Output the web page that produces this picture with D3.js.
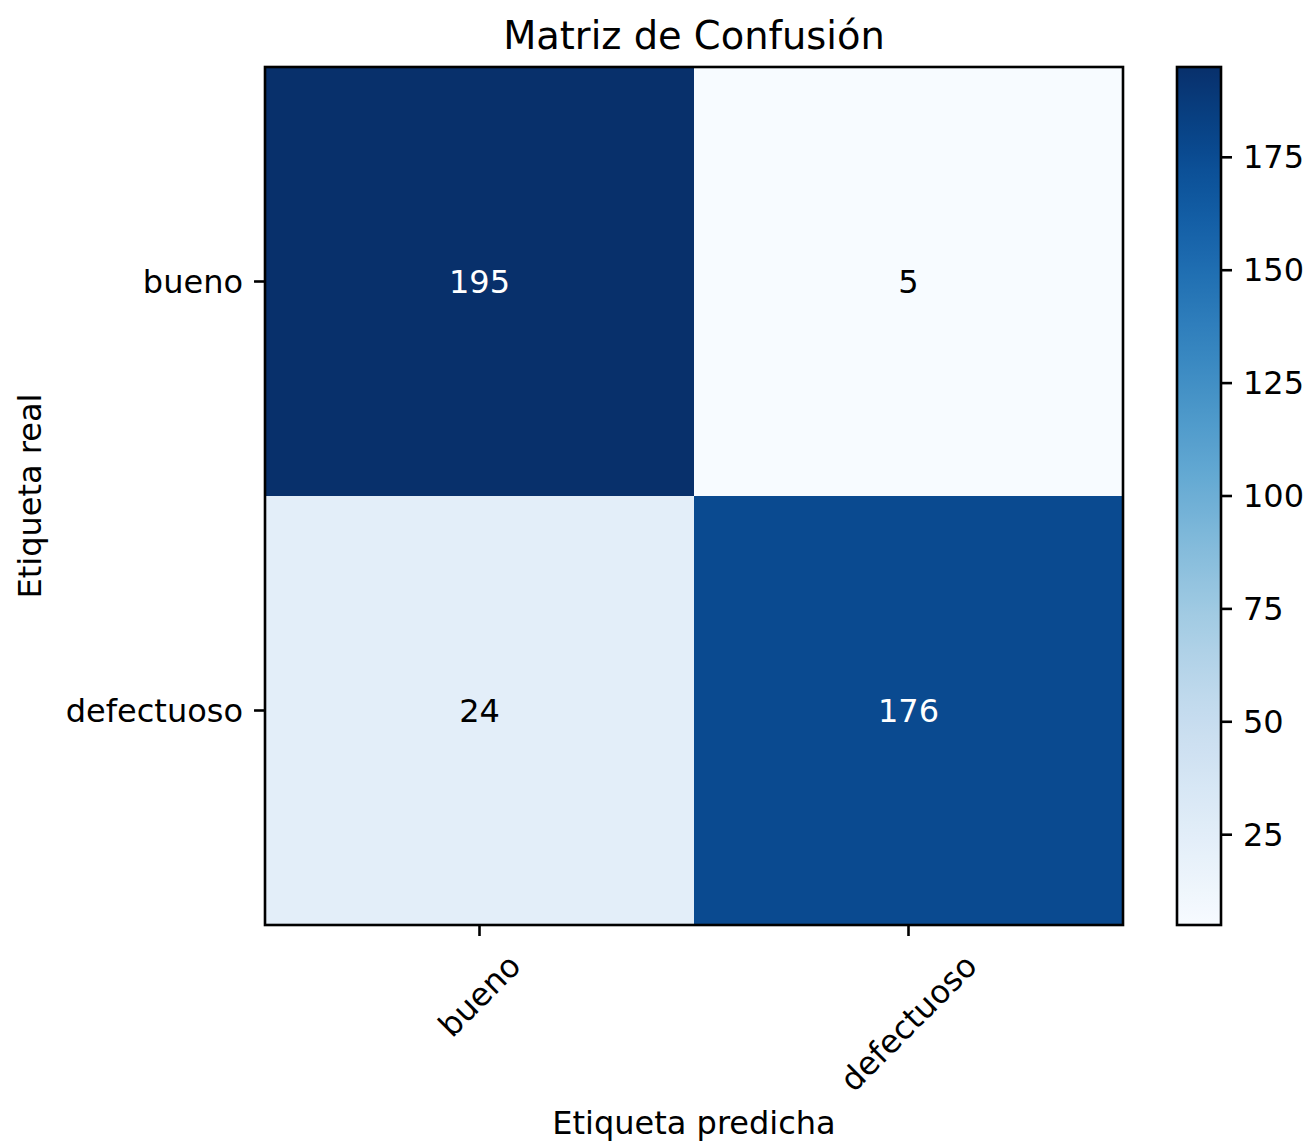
<!DOCTYPE html>
<html>
<head>
<meta charset="utf-8">
<script src="https://cdn.jsdelivr.net/npm/d3@7/dist/d3.min.js"></script>
<style>
  html, body { margin: 0; padding: 0; background: #ffffff; }
  svg { display: block; font-family: "DejaVu Sans", sans-serif; }
</style>
</head>
<body>
<svg id="chart" width="1306" height="1144"></svg>
<script>
// Confusion matrix data
const trueLabels = ["bueno", "defectuoso"];
const predLabels = ["bueno", "defectuoso"];
const counts = [
  [195, 5],
  [24, 176]
];
const colorbarTicks = [25, 50, 75, 100, 125, 150, 175];
const titleText = "Matriz de Confusión";
const xLabelText = "Etiqueta predicha";
const yLabelText = "Etiqueta real";

const svg = d3.select("#chart");

// Layout
const plot = { left: 265, right: 1123, top: 67, bottom: 925 };
const cbar = { left: 1177, right: 1221, top: 67, bottom: 925 };
const fontSize = 32;
const tickLen = 11;
const tickPad = 11;
const lineW = 2.6;

const flat = counts.flat();
const vmin = d3.min(flat), vmax = d3.max(flat);
const norm = d3.scaleLinear().domain([vmin, vmax]).range([0, 1]);
const color = v => d3.interpolateBlues(norm(v));

const x = d3.scaleBand().domain(predLabels).range([plot.left, plot.right]);
const y = d3.scaleBand().domain(trueLabels).range([plot.top, plot.bottom]);

// Cells
const cells = [];
trueLabels.forEach((t, i) => predLabels.forEach((p, j) => cells.push({ t, p, v: counts[i][j] })));

svg.append("g").selectAll("rect").data(cells).join("rect")
  .attr("x", d => x(d.p))
  .attr("y", d => y(d.t))
  .attr("width", x.bandwidth())
  .attr("height", y.bandwidth())
  .attr("fill", d => color(d.v));

const thresh = vmax / 2;
svg.append("g").selectAll("text").data(cells).join("text")
  .attr("x", d => x(d.p) + x.bandwidth() / 2)
  .attr("y", d => y(d.t) + y.bandwidth() / 2)
  .attr("text-anchor", "middle")
  .attr("dominant-baseline", "central")
  .attr("font-size", fontSize)
  .attr("fill", d => d.v > thresh ? "#ffffff" : "#000000")
  .text(d => d.v);

// Plot frame
svg.append("rect")
  .attr("x", plot.left).attr("y", plot.top)
  .attr("width", plot.right - plot.left).attr("height", plot.bottom - plot.top)
  .attr("fill", "none").attr("stroke", "#000").attr("stroke-width", lineW);

// Y axis ticks and labels
const yTicks = svg.append("g");
trueLabels.forEach(t => {
  const cy = y(t) + y.bandwidth() / 2;
  yTicks.append("line")
    .attr("x1", plot.left).attr("x2", plot.left - tickLen)
    .attr("y1", cy).attr("y2", cy)
    .attr("stroke", "#000").attr("stroke-width", lineW);
  yTicks.append("text")
    .attr("x", plot.left - tickLen - tickPad)
    .attr("y", cy)
    .attr("text-anchor", "end")
    .attr("dominant-baseline", "central")
    .attr("font-size", fontSize)
    .text(t);
});

// X axis ticks and rotated labels
const xTicks = svg.append("g");
predLabels.forEach(p => {
  const cx = x(p) + x.bandwidth() / 2;
  xTicks.append("line")
    .attr("x1", cx).attr("x2", cx)
    .attr("y1", plot.bottom).attr("y2", plot.bottom + tickLen)
    .attr("stroke", "#000").attr("stroke-width", lineW);
  const lbl = xTicks.append("text")
    .attr("text-anchor", "middle")
    .attr("dominant-baseline", "central")
    .attr("font-size", fontSize)
    .text(p);
  const w = lbl.node().getComputedTextLength();
  const h = fontSize * 1.16;
  const top = plot.bottom + tickLen + tickPad;
  const cyL = top + (w + h) / (2 * Math.SQRT2);
  lbl.attr("transform", `translate(${cx},${cyL}) rotate(-45)`);
});

// Colorbar
const cy = d3.scaleLinear().domain([vmin, vmax]).range([cbar.bottom, cbar.top]);
const defs = svg.append("defs");
const grad = defs.append("linearGradient")
  .attr("id", "cbGrad")
  .attr("x1", "0").attr("y1", "1").attr("x2", "0").attr("y2", "0");
d3.range(0, 1.0001, 0.02).forEach(s => {
  grad.append("stop").attr("offset", s).attr("stop-color", d3.interpolateBlues(s));
});
svg.append("rect")
  .attr("x", cbar.left).attr("y", cbar.top)
  .attr("width", cbar.right - cbar.left).attr("height", cbar.bottom - cbar.top)
  .attr("fill", "url(#cbGrad)")
  .attr("stroke", "#000").attr("stroke-width", lineW);

const cbTicks = svg.append("g");
colorbarTicks.forEach(v => {
  cbTicks.append("line")
    .attr("x1", cbar.right).attr("x2", cbar.right + tickLen)
    .attr("y1", cy(v)).attr("y2", cy(v))
    .attr("stroke", "#000").attr("stroke-width", lineW);
  cbTicks.append("text")
    .attr("x", cbar.right + tickLen + tickPad)
    .attr("y", cy(v))
    .attr("dominant-baseline", "central")
    .attr("font-size", fontSize)
    .text(v);
});

// Titles
svg.append("text")
  .attr("x", (plot.left + plot.right) / 2)
  .attr("y", 35)
  .attr("text-anchor", "middle")
  .attr("dominant-baseline", "central")
  .attr("font-size", fontSize * 1.2)
  .text(titleText);

svg.append("text")
  .attr("x", (plot.left + plot.right) / 2)
  .attr("y", 1123)
  .attr("text-anchor", "middle")
  .attr("dominant-baseline", "central")
  .attr("font-size", fontSize)
  .text(xLabelText);

svg.append("text")
  .attr("transform", `translate(30,${(plot.top + plot.bottom) / 2}) rotate(-90)`)
  .attr("text-anchor", "middle")
  .attr("dominant-baseline", "central")
  .attr("font-size", fontSize)
  .text(yLabelText);
</script>
</body>
</html>
